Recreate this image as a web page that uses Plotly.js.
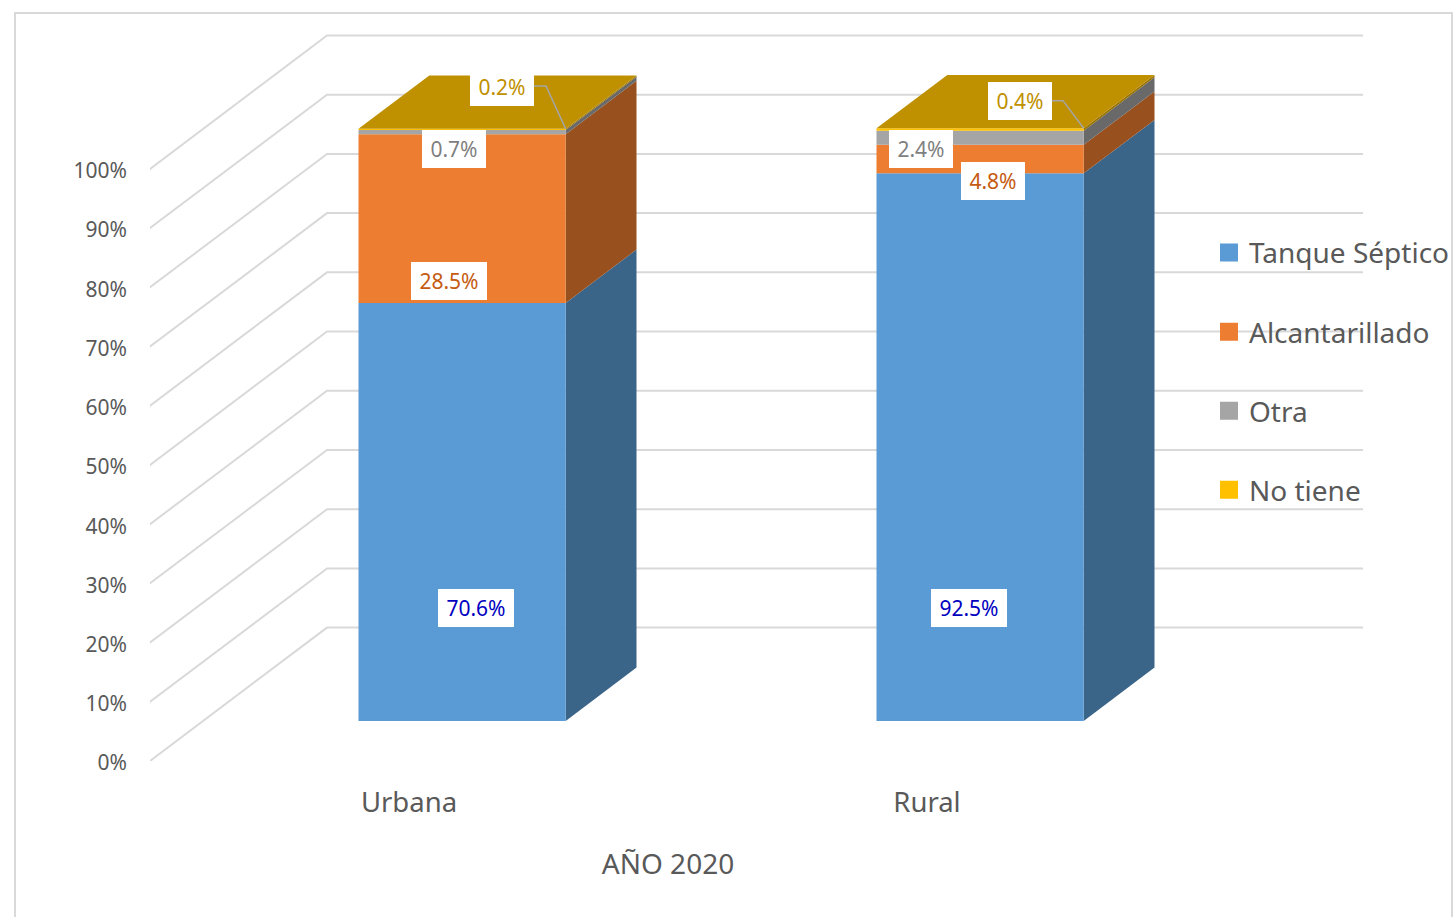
<!DOCTYPE html>
<html>
<head>
<meta charset="utf-8">
<script src="https://cdn.plot.ly/plotly-3.0.1.min.js"></script>
<style>html,body{margin:0;padding:0;background:#fff;overflow:hidden}#chart{width:1455px;height:917px}</style>
</head>
<body>
<div id="chart"></div>
<script>
// ---- data ----
const categories = ['Urbana', 'Rural'];
const tanqueSeptico = [70.6, 92.5];
const alcantarillado = [28.5, 4.8];
const otra = [0.7, 2.4];
const noTiene = [0.2, 0.4];
const seriesNames = ['Tanque Séptico', 'Alcantarillado', 'Otra', 'No tiene'];
const tickValues = [0, 10, 20, 30, 40, 50, 60, 70, 80, 90, 100];
const tickLabels = ['0%', '10%', '20%', '30%', '40%', '50%', '60%', '70%', '80%', '90%', '100%'];
const axisTitle = 'AÑO 2020';

// ---- style ----
const frontColors = ['#5B9BD5', '#ED7D31', '#A5A5A5', '#FFC000'];
const sideColors = ['#3A6488', '#99501F', '#696969', '#997300'];
const topColor = '#BF9000';
const labelColors = ['#0000BF', '#C55A11', '#7F7F7F', '#BF9000'];
const textColor = '#595959';
const gridColor = '#D9D9D9';
const FONT = '"Noto Sans", sans-serif';

// ---- oblique 3D geometry, in axis units ----
const W = 1455, H = 917;
const M = {l: 150, r: 0, t: 13, b: 155.5};
const plotW = W - M.l - M.r, plotH = H - M.t - M.b;
const frontW = 1036;                // front plane of the chart, px
const wallW = 1230;                 // width of the wide axis that carries the back wall, px
const pxPerCat = frontW / 2;
const pxPerPct = 5.925;
const depthX = 177 / pxPerCat, depthY = 133.5 / pxPerPct;
const barHalf = 0.2, d1 = 0.3, d2 = 0.7;
const P = (x, v, d) => [x + d * depthX, v + d * depthY];
const X = px => (px - M.l) / pxPerCat - 0.5;      // pixel → axis, for label placement only
const Y = py => (H - M.b - py) / pxPerPct;

const poly = (pts, color) => ({
  x: pts.map(p => p[0]), y: pts.map(p => p[1]), xaxis: 'x2', yaxis: 'y',
  type: 'scatter', mode: 'lines', fill: 'toself', fillcolor: color,
  line: {width: 0, color: color}, hoverinfo: 'skip', showlegend: false, cliponaxis: false
});

const traces = [];
// gridlines: left wall and back wall (wide axis, drawn first so they stay behind the bars)
tickValues.forEach(v => {
  const a = P(-0.5, v, -0.01), b = P(-0.5, v, 1), c = P(1.5, v, 1);
  traces.push({x: [a[0], b[0], c[0]], y: [a[1], b[1], c[1]], xaxis: 'x', yaxis: 'y', type: 'scatter', mode: 'lines',
    line: {color: gridColor, width: 2}, hoverinfo: 'skip', showlegend: false, cliponaxis: false});
});

// bars
const stacks = [tanqueSeptico, alcantarillado, otra, noTiene];
categories.forEach((cat, i) => {
  let base = 0;
  stacks.forEach((s, k) => {
    const top = base + s[i];
    const xl = i - barHalf, xr = i + barHalf;
    traces.push(poly([P(xr, base, d1), P(xr, base, d2), P(xr, top, d2), P(xr, top, d1)], sideColors[k]));
    traces.push(poly([P(xl, base, d1), P(xr, base, d1), P(xr, top, d1), P(xl, top, d1)], frontColors[k]));
    base = top;
  });
  traces.push(poly([P(i - barHalf, base, d1), P(i + barHalf, base, d1), P(i + barHalf, base, d2), P(i - barHalf, base, d2)], topColor));
});

// leader lines from the top labels to the top-right front corner
const leaders = [[[534, 86], [546, 86]], [[1052, 100.7], [1063, 100.7]]];
categories.forEach((cat, i) => {
  const total = stacks.reduce((t, s) => t + s[i], 0);
  const end = P(i + barHalf, total, d1);
  const pts = leaders[i].map(p => [X(p[0]), Y(p[1])]).concat([end]);
  traces.push({x: pts.map(p => p[0]), y: pts.map(p => p[1]), xaxis: 'x2', yaxis: 'y', type: 'scatter', mode: 'lines',
    line: {color: '#A5A5A5', width: 1.5}, hoverinfo: 'skip', showlegend: false, cliponaxis: false});
});

// legend entries
seriesNames.forEach((name, k) => {
  traces.push({x: [null], y: [null], xaxis: 'x2', yaxis: 'y', type: 'scatter', mode: 'markers', name: name,
    legendgroup: name, showlegend: true,
    marker: {symbol: 'square', size: 16, color: frontColors[k], line: {color: frontColors[k], width: 2}}});
});

// data labels: [series, category, centre px x, centre px y, box width]
const labelPlaces = [
  [0, 0, 476, 608, 76], [1, 0, 449, 281, 76], [2, 0, 454, 149, 64], [3, 0, 502, 87, 64],
  [0, 1, 969, 608, 76], [1, 1, 993, 181, 64], [2, 1, 921, 149, 64], [3, 1, 1020, 101, 64]
];
const annotations = labelPlaces.map(l => ({
  xref: 'x2', yref: 'y', x: X(l[2]), y: Y(l[3]), xanchor: 'center', yanchor: 'middle',
  text: stacks[l[0]][l[1]].toFixed(1) + '%', showarrow: false,
  font: {family: FONT, size: 21, color: labelColors[l[0]]},
  bgcolor: '#FFFFFF', borderpad: 0, borderwidth: 0, width: l[4], height: 38
}));

const layout = {
  width: W, height: H, margin: M, autosize: false,
  paper_bgcolor: '#FFFFFF', plot_bgcolor: 'rgba(0,0,0,0)',
  font: {family: FONT, color: textColor},
  showlegend: true, hovermode: false,
  xaxis: {
    type: 'linear', visible: false, domain: [0, wallW / plotW], range: [-0.5, -0.5 + wallW / pxPerCat],
    anchor: 'y', fixedrange: true
  },
  xaxis2: {
    type: 'linear', anchor: 'y', side: 'bottom', domain: [0, frontW / plotW], range: [-0.5, 1.5],
    tickmode: 'array', tickvals: [0, 1], ticktext: categories,
    showgrid: false, zeroline: false, showline: false, ticks: '', ticklabelstandoff: 22,
    tickfont: {family: FONT, size: 27.5, color: textColor},
    title: {text: axisTitle, standoff: 35, font: {family: FONT, size: 28, color: textColor}}
  },
  yaxis: {
    anchor: 'x', range: [0, plotH / pxPerPct], tickmode: 'array', tickvals: tickValues, ticktext: tickLabels,
    showgrid: false, zeroline: false, showline: false, ticks: '', ticklabelstandoff: 22, ticklabelshift: 2,
    tickfont: {family: FONT, size: 21, color: textColor}
  },
  legend: {
    x: (1209 - M.l) / plotW, xanchor: 'left',
    y: 1 - (228 - M.t) / plotH, yanchor: 'top',
    bgcolor: 'rgba(0,0,0,0)', borderwidth: 0, tracegroupgap: 39.7,
    font: {family: FONT, size: 28, color: textColor}
  },
  shapes: [{
    type: 'rect', xref: 'paper', yref: 'paper', layer: 'below',
    x0: (15 - M.l) / plotW, x1: (1452 - M.l) / plotW, y0: -0.4, y1: 1,
    line: {color: gridColor, width: 2}, fillcolor: 'rgba(0,0,0,0)'
  }],
  annotations: annotations
};
Plotly.newPlot('chart', traces, layout, {displayModeBar: false, staticPlot: true});
</script>
</body>
</html>
